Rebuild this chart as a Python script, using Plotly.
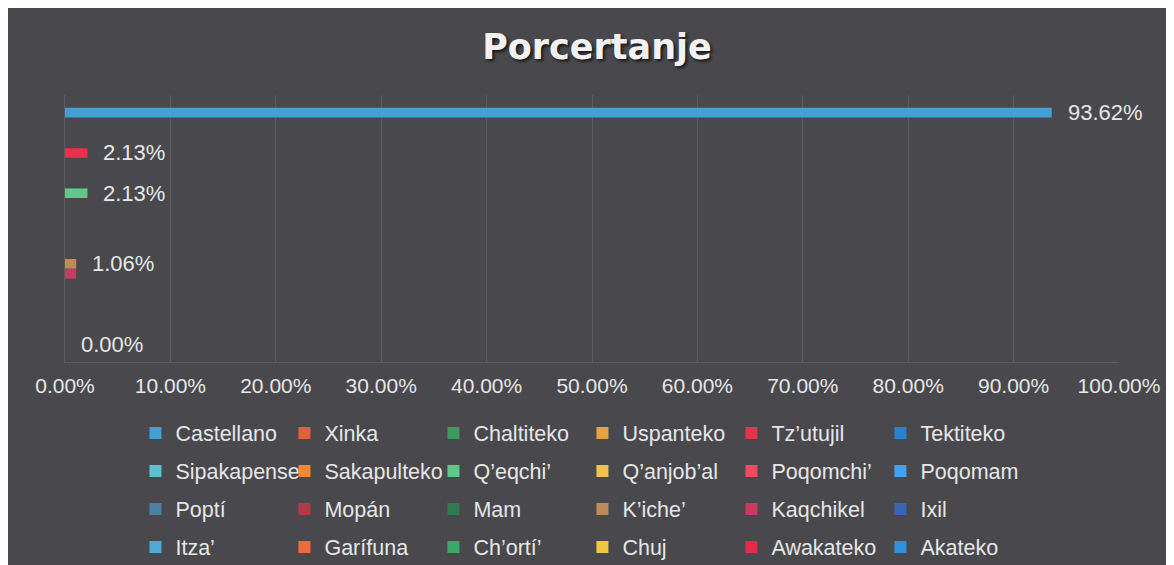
import plotly.graph_objects as go

# ---------------- data ----------------
languages = ["Castellano", "Xinka", "Chaltiteko", "Uspanteko", "Tz’utujil", "Tektiteko",
             "Sipakapense", "Sakapulteko", "Q’eqchi’", "Q’anjob’al", "Poqomchi’", "Poqomam",
             "Poptí", "Mopán", "Mam", "K’iche’", "Kaqchikel", "Ixil",
             "Itza’", "Garífuna", "Ch’ortí’", "Chuj", "Awakateko", "Akateko"]

percent = [93.62, 0.00, 0.00, 0.00, 2.13, 0.00,
           0.00, 0.00, 2.13, 0.00, 0.00, 0.00,
           0.00, 0.00, 0.00, 1.06, 1.06, 0.00,
           0.00, 0.00, 0.00, 0.00, 0.00, 0.00]

# languages whose data label is visible in the picture
labeled = ["Castellano", "Tz’utujil", "Q’eqchi’", "K’iche’", "Akateko"]

x_ticks = [0, 10, 20, 30, 40, 50, 60, 70, 80, 90, 100]
x_tick_labels = [f"{v:.2f}%" for v in x_ticks]

colors = ["#42a0d6", "#e0603a", "#3a9a62", "#e8a040", "#e6334a", "#2a80d0",
          "#5cc0d0", "#f08a3a", "#5ec98a", "#f0c050", "#f04a62", "#42a2f0",
          "#4a80a8", "#b03a4a", "#2f7a52", "#c08a58", "#c83a62", "#3a64b4",
          "#4fa8d8", "#f06a40", "#3aa868", "#f0c840", "#e82a48", "#3090e0"]

# ---------------- layout geometry ----------------
# the page body adds an 8px offset (white strip on the left/top, as in the reference)
OFF = 8
W, H = 1174, 565
L = 64.5 - OFF
T = 95 - OFF
R = W - (1119.5 - OFF)
B = H - (362 - OFF)
pw, ph = W - L - R, H - T - B

def px_x(x):
    return (x - OFF - L) / pw

def px_y(y):
    return (T + ph - (y - OFF)) / ph

text_col = "#e6e6e6"
grid_col = "#5c5c60"
bg_col = "#49494d"
font_fam = "Liberation Sans, Arial"

fig = go.Figure()
legend_ids = ["legend", "legend2", "legend3", "legend4"]
for i, (lang, val, col) in enumerate(zip(languages, percent, colors)):
    fig.add_trace(go.Bar(
        x=[val], y=[lang], orientation="h", name=lang,
        marker=dict(color=col, line=dict(width=0)),
        width=0.95, legend=legend_ids[i // 6],
        hovertemplate="%{y}: %{x:.2f}%<extra></extra>",
    ))

annotations = []
for lang, val in zip(languages, percent):
    if lang in labeled:
        annotations.append(dict(
            x=val, y=lang, xref="x", yref="y", text=f"{val:.2f}%",
            showarrow=False, xanchor="left", yanchor="middle", xshift=14,
            font=dict(family=font_fam, size=22, color=text_col),
        ))

row_y = [433, 471, 509, 547]
legends = {}
for k, lid in enumerate(legend_ids):
    legends[lid] = dict(
        orientation="h", x=px_x(135), xanchor="left",
        y=px_y(row_y[k]), yanchor="middle",
        entrywidth=104, entrywidthmode="pixels",
        bgcolor="rgba(0,0,0,0)", borderwidth=0,
        font=dict(family=font_fam, size=21.5, color=text_col),
        traceorder="normal",
    )

fig.update_layout(
    width=W, height=H,
    margin=dict(l=L, r=R, t=T, b=B, autoexpand=False),
    paper_bgcolor=bg_col, plot_bgcolor=bg_col,
    barmode="overlay",
    title=dict(
        text="Porcertanje", x=(597 - OFF) / W, xref="container", xanchor="center",
        y=1 - (47 - OFF) / H, yref="container", yanchor="middle",
        font=dict(family="DejaVu Sans", size=35, weight="bold", color="#f2f2f2",
                  shadow="2px 2px 3px rgba(0,0,0,0.7)"),
    ),
    xaxis=dict(
        range=[0, 100], tickvals=x_ticks, ticktext=x_tick_labels,
        showgrid=True, gridcolor=grid_col, gridwidth=1, zeroline=False,
        showline=True, linecolor=grid_col, linewidth=1,
        ticks="outside", ticklen=5, tickcolor="rgba(0,0,0,0)",
        tickfont=dict(family=font_fam, size=21, color=text_col),
    ),
    yaxis=dict(
        type="category", categoryorder="array", categoryarray=languages,
        range=[24.75, -1.75], showticklabels=False, showgrid=False,
        zeroline=False, showline=True, linecolor=grid_col, linewidth=1, ticks="",
    ),
    annotations=annotations,
    showlegend=True,
    **legends,
)

fig.write_html("out.html")
